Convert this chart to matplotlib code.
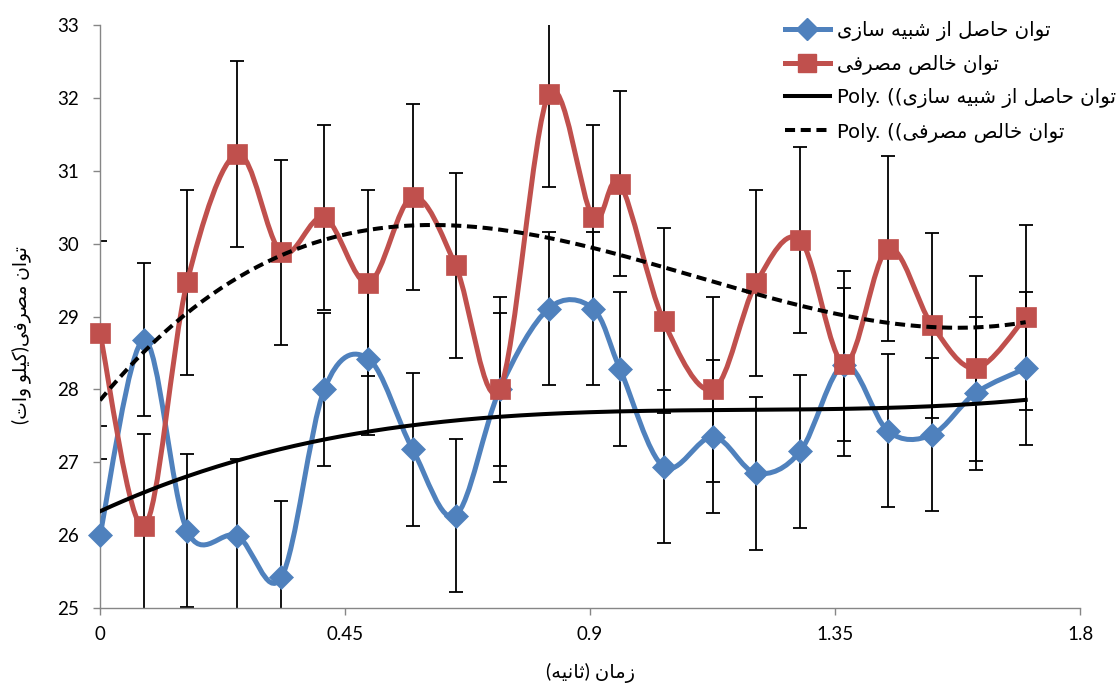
import numpy as np
import matplotlib
matplotlib.use("Agg")
import matplotlib.pyplot as plt
from matplotlib.path import Path
from matplotlib.patches import PathPatch
from matplotlib.lines import Line2D

# ---------------- data ----------------
time_s = [0.0, 0.081, 0.160, 0.252, 0.333, 0.412, 0.493, 0.574, 0.653, 0.734, 0.824,
          0.905, 0.955, 1.035, 1.126, 1.205, 1.286, 1.367, 1.447, 1.528, 1.608, 1.700]
sim_power = [26.0, 28.68, 26.06, 25.99, 25.42, 28.0, 28.42, 27.18, 26.27, 28.0, 29.11,
             29.11, 28.28, 26.94, 27.35, 26.85, 27.15, 28.34, 27.43, 27.38, 27.95, 28.29]
net_power = [28.77, 26.12, 29.47, 31.23, 29.88, 30.36, 29.46, 30.64, 29.70, 28.0, 32.05,
             30.36, 30.82, 28.94, 28.0, 29.46, 30.05, 28.35, 29.93, 28.88, 28.29, 28.99]
sim_err = 1.05
net_err = 1.27
trend_order = 3
x_ticks = [0, 0.45, 0.9, 1.35, 1.8]
x_ticklabels = ["0", "0.45", "0.9", "1.35", "1.8"]
y_ticks = [25, 26, 27, 28, 29, 30, 31, 32, 33]

lbl_sim = "توان حاصل از شبیه سازی"
lbl_net = "توان خالص مصرفی"
xlabel_txt = "زمان (ثانیه)"
ylabel_txt = "توان مصرفی(کیلو وات)"

# ------------- minimal Persian shaping (presentation forms B) -------------
FORMS = {  # iso, fin, init, med  (None for right-joining letters)
    'ا': (0xFE8D, 0xFE8E, None, None),
    'ب': (0xFE8F, 0xFE90, 0xFE91, 0xFE92),
    'ت': (0xFE95, 0xFE96, 0xFE97, 0xFE98),
    'ث': (0xFE99, 0xFE9A, 0xFE9B, 0xFE9C),
    'ح': (0xFEA1, 0xFEA2, 0xFEA3, 0xFEA4),
    'خ': (0xFEA5, 0xFEA6, 0xFEA7, 0xFEA8),
    'ر': (0xFEAD, 0xFEAE, None, None),
    'ز': (0xFEAF, 0xFEB0, None, None),
    'س': (0xFEB1, 0xFEB2, 0xFEB3, 0xFEB4),
    'ش': (0xFEB5, 0xFEB6, 0xFEB7, 0xFEB8),
    'ص': (0xFEB9, 0xFEBA, 0xFEBB, 0xFEBC),
    'ف': (0xFED1, 0xFED2, 0xFED3, 0xFED4),
    'ک': (0xFB8E, 0xFB8F, 0xFEDB, 0xFEDC),
    'ل': (0xFEDD, 0xFEDE, 0xFEDF, 0xFEE0),
    'م': (0xFEE1, 0xFEE2, 0xFEE3, 0xFEE4),
    'ن': (0xFEE5, 0xFEE6, 0xFEE7, 0xFEE8),
    'ه': (0xFEE9, 0xFEEA, 0xFEEB, 0xFEEC),
    'و': (0xFEED, 0xFEEE, None, None),
    'ی': (0xFEEF, 0xFEF0, 0xFEF3, 0xFEF4),
}
MIRROR = {'(': ')', ')': '('}


def shape(s):
    out = []
    n = len(s)
    for i, ch in enumerate(s):
        if ch not in FORMS:
            out.append(ch)
            continue
        f = FORMS[ch]
        prev = s[i - 1] if i > 0 else None
        nxt = s[i + 1] if i < n - 1 else None
        join_prev = prev in FORMS and FORMS[prev][2] is not None
        join_next = (f[2] is not None) and (nxt in FORMS)
        if join_prev and join_next:
            cp = f[3]
        elif join_prev:
            cp = f[1]
        elif join_next:
            cp = f[2]
        else:
            cp = f[0]
        out.append(chr(cp))
    return ''.join(out)


def rtl(s):
    return ''.join(MIRROR.get(c, c) for c in reversed(shape(s)))


FAM = ['Lato', 'DejaVu Sans']
plt.rcParams['font.family'] = FAM

BLUE = '#4F81BD'
RED = '#C0504D'

fig = plt.figure(figsize=(11.17, 6.84), dpi=100)
ax = fig.add_axes([0.0895, 0.111, 0.8775, 0.8525])


def smooth_path(xs, ys):
    pts = np.column_stack([xs, ys])
    n = len(pts)
    verts = [pts[0]]
    codes = [Path.MOVETO]
    for i in range(n - 1):
        p0 = pts[max(i - 1, 0)]
        p1 = pts[i]
        p2 = pts[i + 1]
        p3 = pts[min(i + 2, n - 1)]
        c1 = p1 + (p2 - p0) / 6.0
        c2 = p2 - (p3 - p1) / 6.0
        verts += [c1, c2, p2]
        codes += [Path.CURVE4] * 3
    return Path(verts, codes)


MS_D = 12
MS_S = 14.5

# error bars
ax.errorbar(time_s, sim_power, yerr=sim_err, fmt='none', ecolor='black',
            elinewidth=1.3, capsize=4.8, capthick=1.3, zorder=2)
ax.errorbar(time_s, net_power, yerr=net_err, fmt='none', ecolor='black',
            elinewidth=1.3, capsize=4.8, capthick=1.3, zorder=2)

for ys, col, mk, ms, z in [(sim_power, BLUE, 'D', MS_D, 3), (net_power, RED, 's', MS_S, 4)]:
    ax.add_patch(PathPatch(smooth_path(time_s, ys), fill=False, edgecolor=col,
                           lw=3.6, capstyle='round', joinstyle='round', zorder=z))
    ax.plot(time_s, ys, ls='none', marker=mk, ms=ms, color=col, mec=col, mew=0.5,
            zorder=z + 0.1, clip_on=False)

# polynomial trend lines (least-squares fit of the data, as the spreadsheet does)
xt = np.linspace(min(time_s), max(time_s), 300)
p_sim = np.polyfit(time_s, sim_power, trend_order)
p_net = np.polyfit(time_s, net_power, trend_order)
DASH = (0, (2.5, 1.4))
ax.plot(xt, np.polyval(p_sim, xt), color='black', lw=2.9, zorder=6)
ax.plot(xt, np.polyval(p_net, xt), color='black', lw=2.9, ls=DASH, zorder=6)

ax.set_xlim(0, 1.8)
ax.set_ylim(25, 33)
ax.set_xticks(x_ticks)
ax.set_xticklabels(x_ticklabels)
ax.set_yticks(y_ticks)
for s in ['top', 'right']:
    ax.spines[s].set_visible(False)
for s in ['left', 'bottom']:
    ax.spines[s].set_color('#868686')
    ax.spines[s].set_linewidth(1.0)
ax.tick_params(axis='both', colors='#868686', labelcolor='black', labelsize=13.5,
               length=5, width=1.0, direction='out')
ax.tick_params(axis='x', pad=8)
ax.tick_params(axis='y', pad=10)

ax.set_xlabel(rtl(xlabel_txt), fontsize=14, labelpad=14)
ax.set_ylabel(rtl(ylabel_txt), fontsize=13.5)
ax.yaxis.set_label_coords(-0.0704, 0.468)

handles = [
    Line2D([], [], color=BLUE, lw=3.6, marker='D', ms=MS_D - 1),
    Line2D([], [], color=RED, lw=3.6, marker='s', ms=MS_S - 1.5),
    Line2D([], [], color='black', lw=2.9),
    Line2D([], [], color='black', lw=2.9, ls=DASH),
]
labels = [rtl(lbl_sim), rtl(lbl_net), 'Poly. ((' + rtl(lbl_sim), 'Poly. ((' + rtl(lbl_net)]
fig.legend(handles, labels, loc='upper left', bbox_to_anchor=(0.690, 0.99),
           frameon=False, prop={'family': ['DejaVu Sans'], 'size': 14.2},
           handlelength=2.3, handletextpad=0.35, labelspacing=0.7, borderaxespad=0.3)

fig.savefig('out.png', dpi=100)
